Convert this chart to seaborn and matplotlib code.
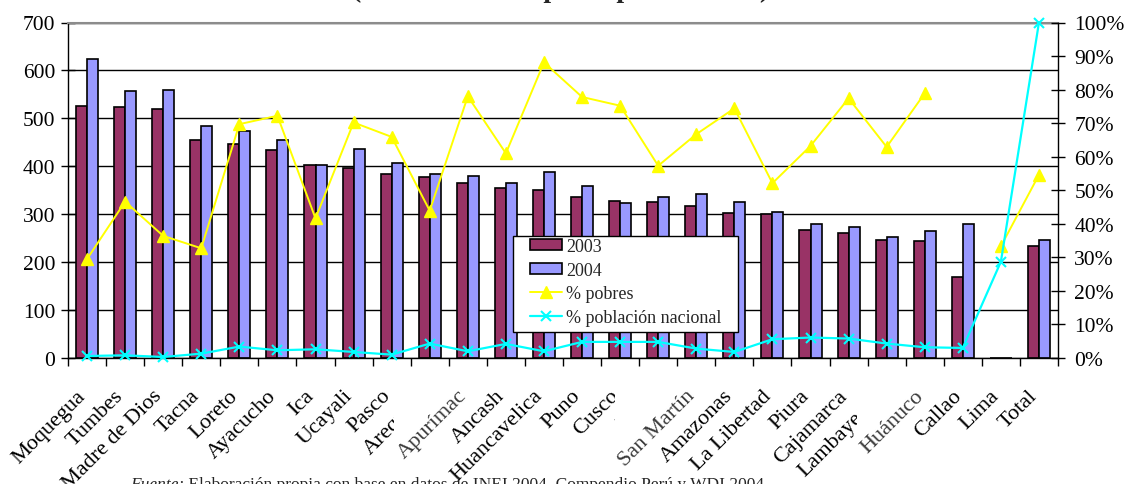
import numpy as np
import pandas as pd
import matplotlib
matplotlib.use("Agg")
import matplotlib.pyplot as plt
import matplotlib.transforms as mtransforms
from matplotlib.patches import Rectangle, Patch
from matplotlib.lines import Line2D
import seaborn as sns

# ---------------- data ----------------
regiones = ["Moquegua", "Tumbes", "Madre de Dios", "Tacna", "Loreto", "Ayacucho",
            "Ica", "Ucayali", "Pasco", "Arequipa", "Apurímac", "Ancash",
            "Huancavelica", "Puno", "Cusco", "Junín", "San Martín", "Amazonas",
            "La Libertad", "Piura", "Cajamarca", "Lambayeque", "Huánuco",
            "Callao", "Lima", "Total"]
ingreso_2003 = [526, 524, 519, 455, 446, 434, 402, 396, 384, 378, 366, 354, 351,
                335, 328, 326, 318, 302, 300, 267, 260, 246, 245, 170, 1, 234]
ingreso_2004 = [623, 557, 559, 484, 473, 455, 402, 436, 407, 384, 380, 366, 389,
                359, 323, 336, 343, 326, 304, 279, 273, 252, 265, 279, 1, 247]
pct_pobres = [29.5, 46.6, 36.4, 32.7, 69.7, 72.2, 41.6, 70.2, 65.9, 43.9, 78.0,
              61.0, 88.1, 77.8, 75.2, 57.3, 66.7, 74.4, 52.1, 63.2, 77.4, 62.9,
              78.9, np.nan, 33.3, 54.6]
pct_poblacion = [0.6, 0.8, 0.3, 1.3, 3.4, 2.3, 2.6, 1.8, 1.0, 4.3, 2.0, 4.2, 2.0,
                 4.8, 4.8, 4.8, 2.8, 1.8, 5.6, 6.1, 5.8, 4.3, 3.2, 3.0, 28.7, 100.0]
anios = ["2003", "2004"]
serie_labels = ["% pobres", "% población nacional"]
left_ticks = list(range(0, 701, 100))
right_ticks = list(range(0, 101, 10))
titulo = "(Gasto mensual per cápita en soles)"
fuente_1 = "Fuente:"
fuente_2 = " Elaboración propia con base en datos de INEI 2004, Compendio Perú y WDI 2004"
# labels that sit on an opaque box in the original and hide the label drawn before them
front_labels = ["Apurímac", "San Martín", "Huánuco"]

# ---------------- style ----------------
sns.set_theme(style="white")
plt.rcParams["font.family"] = ["Liberation Serif", "DejaVu Serif"]

W, H = 1127, 485
fig = plt.figure(figsize=(W / 100, H / 100), dpi=100)
fig.patch.set_facecolor("white")
x0, x1, ytop, ybot = 68, 1058, 23.5, 359
ax = fig.add_axes([x0 / W, 1 - ybot / H, (x1 - x0) / W, (ybot - ytop) / H])

df = pd.DataFrame({
    "region": regiones * 2,
    "valor": ingreso_2003 + ingreso_2004,
    "anio": [anios[0]] * len(regiones) + [anios[1]] * len(regiones),
})
colores = {"2003": "#993366", "2004": "#9999FF"}
sns.barplot(data=df, x="region", y="valor", hue="anio", order=regiones,
            hue_order=anios, palette=colores, saturation=1, width=0.58, gap=0,
            edgecolor="black", linewidth=1.2, errorbar=None, legend=False, ax=ax)

ax.set_xlim(-0.5, len(regiones) - 0.5)
ax.set_ylim(0, 700)
ax.set_yticks(left_ticks)
ax.set_yticklabels([str(v) for v in left_ticks])
ax.set_xticks(np.arange(-0.5, len(regiones), 1))
ax.set_xticklabels([])
ax.set_xlabel("")
ax.set_ylabel("")
ax.tick_params(axis="x", bottom=True, direction="out", length=5.5, width=1,
               color="black")
ax.tick_params(axis="y", left=True, direction="inout", length=9.4, width=1,
               color="black", pad=4.5, labelsize=15.5, labelcolor="black")
ax.set_axisbelow(True)
ax.yaxis.grid(True, color="black", linewidth=1)
ax.xaxis.grid(False)
for s in ["left", "bottom"]:
    ax.spines[s].set_color("black")
    ax.spines[s].set_linewidth(1)
ax.spines["top"].set_color("#8c8c8c")
ax.spines["top"].set_linewidth(1.5)
ax.spines["right"].set_visible(False)

# ---------------- right axis lines ----------------
ax2 = ax.twinx()
ax2.set_ylim(0, 100)
xpos = np.arange(len(regiones))
ax2.plot(xpos, pct_pobres, color="#FFFF00", linewidth=1.4, marker="^",
         markersize=8, clip_on=False, zorder=3)
ax2.plot(xpos, pct_poblacion, color="#00FFFF", linewidth=1.6, marker="x",
         markersize=7, markeredgewidth=1.5, clip_on=False, zorder=3)
ax2.set_yticks(right_ticks)
ax2.set_yticklabels([f"{v}%" for v in right_ticks])
ax2.tick_params(axis="y", right=True, direction="inout", length=9.4, width=1,
                color="black", pad=7, labelsize=15.5, labelcolor="black")
for s in ["left", "top", "bottom"]:
    ax2.spines[s].set_visible(False)
ax2.spines["right"].set_color("black")
ax2.spines["right"].set_linewidth(1)
ax2.grid(False)

# ---------------- legend (frameless, with a separate box behind it) ----------------
handles = [
    Patch(facecolor=colores["2003"], edgecolor="black", linewidth=1.2),
    Patch(facecolor=colores["2004"], edgecolor="black", linewidth=1.2),
    Line2D([], [], color="#FFFF00", linewidth=1.4, marker="^", markersize=8),
    Line2D([], [], color="#00FFFF", linewidth=1.6, marker="x", markersize=7,
           markeredgewidth=1.5),
]
leg = ax2.legend(handles, anios + serie_labels, loc="upper left",
                 bbox_to_anchor=(530 / W, 1 - 239 / H), bbox_transform=fig.transFigure,
                 fontsize=13, frameon=False, borderpad=0, labelspacing=0.37,
                 handlelength=1.75, handleheight=0.6, handletextpad=0.25,
                 borderaxespad=0)
leg.set_zorder(6)
legbox = Rectangle((513, H - 333), 738 - 513, 333 - 237, transform=None,
                   facecolor="white", edgecolor="black", linewidth=1,
                   zorder=5.5, clip_on=False)
ax2.add_artist(legbox)

# ---------------- category labels ----------------
offset = mtransforms.ScaledTranslation(-11 / 100, -28 / 100, fig.dpi_scale_trans)
trans = mtransforms.blended_transform_factory(ax.transData, ax.transAxes) + offset
label_texts = {}
for i, name in enumerate(regiones):
    front = name in front_labels
    t = ax.text(i, 0, name, transform=trans, rotation=45, rotation_mode="anchor",
                ha="right", va="top", fontsize=16,
                color="#3a3a3a" if front else "black",
                zorder=3 + 0.02 * i + 0.01, clip_on=False)
    label_texts[name] = t

# ---------------- title / source (partially outside the canvas, as in original) ----
fig.text(561 / W, 1 + 3 / H, titulo, ha="center", va="baseline", fontsize=20,
         fontweight="bold")
f1 = fig.text(130 / W, -4 / H, fuente_1, ha="left", va="baseline", fontsize=12.5,
              style="italic")

fig.canvas.draw()
renderer = fig.canvas.get_renderer()
for i, name in enumerate(regiones):
    if name in front_labels:
        bb = label_texts[name].get_window_extent(renderer)
        rect = Rectangle((bb.x0, bb.y0), bb.width, bb.height, transform=None,
                         facecolor="white", edgecolor="none",
                         zorder=3 + 0.02 * i + 0.005, clip_on=False)
        ax.add_artist(rect)
bb1 = f1.get_window_extent(renderer)
fig.text(bb1.x1 / W, -4 / H, fuente_2, ha="left", va="baseline", fontsize=12.5)

fig.savefig("out.png", dpi=100, facecolor="white")
